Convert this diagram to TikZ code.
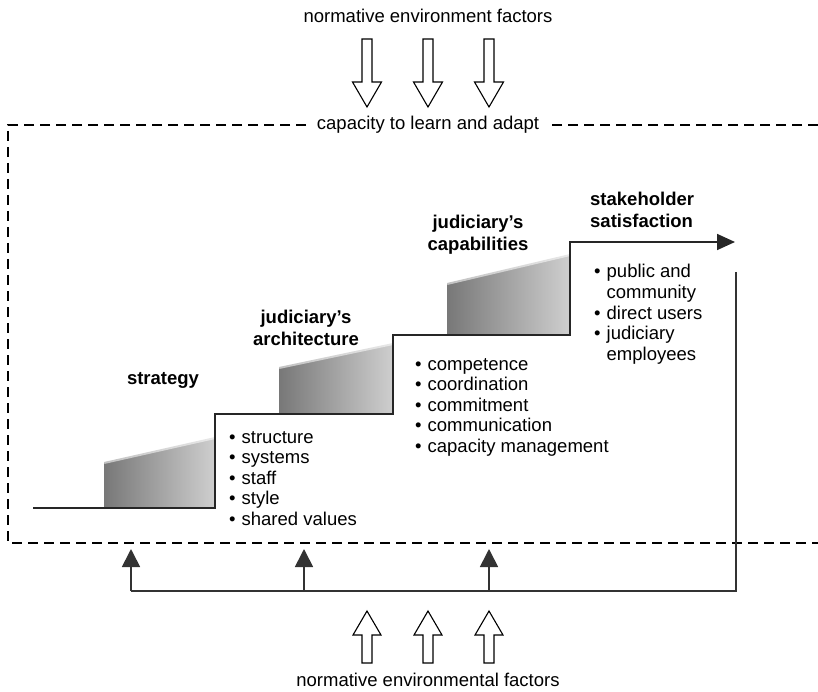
\documentclass[tikz,border=0pt]{standalone}
\usepackage{fontspec}
\setmainfont{Liberation Sans}
\usetikzlibrary{arrows.meta}

\begin{document}
\begin{tikzpicture}[x=1pt,y=-1pt,
  txt/.style={inner sep=0pt, font=\fontsize{18.5}{20.5}\selectfont},
  ttl/.style={inner sep=0pt, font=\fontsize{18.5}{21.5}\selectfont\bfseries, align=center},
  stair/.style={line width=1.7pt, draw=black!85},
  fb/.style={line width=1.7pt, draw=black!80},
  fbtip/.style={-{Triangle[width=18pt,length=18pt]}},
  frame/.style={line width=1.8pt, dash pattern=on 10pt off 6pt},
  hollow/.style={draw=black, line width=1.1pt, fill=white},
  blockshade/.style={left color=black!53, right color=black!19},
  softedge/.style={draw=white, opacity=0.55, line width=4pt},
  downarrow/.pic={\path[hollow] (-5,0) -- (-5,43) -- (-14.5,43) -- (0,68) -- (14.5,43) -- (5,43) -- (5,0) -- cycle;},
  uparrow/.pic={\path[hollow] (0,0) -- (14,24) -- (5,24) -- (5,52) -- (-5,52) -- (-5,24) -- (-14,24) -- cycle;}
]
\useasboundingbox (0,0) rectangle (818,692);

% outside influences, top
\node[txt, anchor=base] (topf) at (428,23) {normative environment factors};
\pic at (367,39) {downarrow};
\pic at (428,39) {downarrow};
\pic at (489,39) {downarrow};

% dashed learning frame (open to the right)
\draw[frame] (818,125) -- (8,125) -- (8,543) -- (818,543);
\node[txt, fill=white, inner xsep=9pt, inner ysep=3pt] (cap) at (428,125) {capacity to learn and adapt};

% shaded step blocks
\shade[blockshade] (104,508) -- (215,508) -- (215,437) -- (104,462) -- cycle;
\shade[blockshade] (279,414) -- (393,414) -- (393,343) -- (279,367) -- cycle;
\shade[blockshade] (447,335) -- (570,335) -- (570,254) -- (447,283) -- cycle;
\draw[softedge] (104,462) -- (215,437);
\draw[softedge] (279,367) -- (393,343);
\draw[softedge] (447,283) -- (570,254);

% staircase
\draw[stair, -{Triangle[width=16pt,length=18pt]}]
  (33,508) -- (215,508) -- (215,414) -- (393,414) -- (393,335)
  -- (570,335) -- (570,242) -- (735,242);

% step titles
\node[ttl, anchor=base] (strat) at (163,384) {strategy};
\node[ttl, anchor=north] (arch) at (306,310) {judiciary’s\\architecture};
\node[ttl, anchor=north] (capab) at (478,215) {judiciary’s\\capabilities};
\node[ttl, anchor=north west, align=left] (stake) at (590,192) {stakeholder\\satisfaction};

% bullet lists
\node[txt, anchor=base west] (l1) at (229,443) {\begin{tabular}[t]{@{}l@{\hspace{6pt}}l@{}}
\textbullet & structure\\
\textbullet & systems\\
\textbullet & staff\\
\textbullet & style\\
\textbullet & shared values
\end{tabular}};
\node[txt, anchor=base west] (l2) at (415,370) {\begin{tabular}[t]{@{}l@{\hspace{6pt}}l@{}}
\textbullet & competence\\
\textbullet & coordination\\
\textbullet & commitment\\
\textbullet & communication\\
\textbullet & capacity management
\end{tabular}};
\node[txt, anchor=base west] (l3) at (594,278) {\begin{tabular}[t]{@{}l@{\hspace{6pt}}l@{}}
\textbullet & public and\\
 & community\\
\textbullet & direct users\\
\textbullet & judiciary\\
 & employees
\end{tabular}};

% feedback loop
\coordinate (fbtop) at (736,272);
\coordinate (fbend) at (736,591);
\coordinate (fbA) at (131,591);
\coordinate (fbB) at (304,591);
\coordinate (fbC) at (489,591);
\coordinate (tipA) at (131,549);
\coordinate (tipB) at (304,549);
\coordinate (tipC) at (489,549);
\draw[fb] (fbtop) -- (fbend) -- (fbA);
\draw[fb, fbtip] (fbA) -- (tipA);
\draw[fb, fbtip] (fbB) -- (tipB);
\draw[fb, fbtip] (fbC) -- (tipC);

% outside influences, bottom
\pic at (367,611) {uparrow};
\pic at (428,611) {uparrow};
\pic at (489,611) {uparrow};
\node[txt, anchor=base] (botf) at (428,686) {normative environmental factors};
\end{tikzpicture}
\end{document}
